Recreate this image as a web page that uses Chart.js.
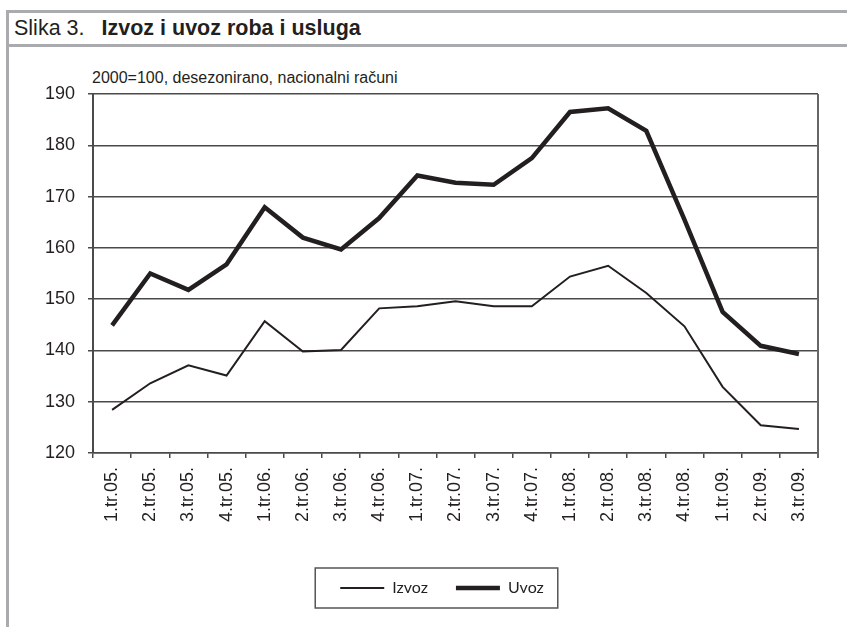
<!DOCTYPE html>
<html>
<head>
<meta charset="utf-8">
<script src="https://cdn.jsdelivr.net/npm/chart.js@4"></script>
<style>
    body { margin: 0; background: #fff; width: 847px; height: 627px; overflow: hidden; position: relative; }
    .frame-top { position: absolute; left: 6px; top: 10px; right: 0; height: 31px;
                 border-top: 3px solid #a9abae; border-bottom: 3px solid #a9abae; }
    .frame-left { position: absolute; left: 6px; top: 10px; width: 3px; height: 617px; background: #a9abae; }
    .title { position: absolute; left: 14px; top: 15px; font: 21.5px/26px "Liberation Sans", Arial, sans-serif;
             color: #231f20; white-space: nowrap; }
    .title b { margin-left: 17px; }
    .subtitle { position: absolute; left: 92px; top: 69px; font: 16px/18px "Liberation Sans", Arial, sans-serif;
                color: #231f20; white-space: nowrap; }
    #chart { position: absolute; left: 0; top: 0; }
</style>
</head>
<body>
<div class="frame-top"></div>
<div class="frame-left"></div>
<div class="title">Slika 3.<b>Izvoz i uvoz roba i usluga</b></div>
<div class="subtitle">2000=100, desezonirano, nacionalni računi</div>
<canvas id="chart" width="847" height="627"></canvas>
<script>
// quarters
var labels = ['1.tr.05.', '2.tr.05.', '3.tr.05.', '4.tr.05.',
              '1.tr.06.', '2.tr.06.', '3.tr.06.', '4.tr.06.',
              '1.tr.07.', '2.tr.07.', '3.tr.07.', '4.tr.07.',
              '1.tr.08.', '2.tr.08.', '3.tr.08.', '4.tr.08.',
              '1.tr.09.', '2.tr.09.', '3.tr.09.'];

// index values, 2000=100
var izvoz = [128.4, 133.6, 137.1, 135.1, 145.7, 139.8, 140.1, 148.2, 148.6, 149.6,
             148.6, 148.6, 154.4, 156.5, 151.2, 144.7, 132.9, 125.4, 124.7];
var uvoz = [144.9, 155.0, 151.8, 156.8, 167.9, 162.0, 159.7, 165.8, 174.1, 172.7,
            172.3, 177.5, 186.5, 187.2, 182.8, 165.5, 147.5, 140.9, 139.3];

var yTicks = [120, 130, 140, 150, 160, 170, 180, 190];

var ink = '#231f20';
var gridColor = '#4a4a4a';

// legend in the original sits a bit right of the page centre
var legendShift = 33;

// right edge of plot + box round the legend
var framePlugin = {
    id: 'frame',
    afterLayout: function (chart) {
        chart.legend.left += legendShift;
        chart.legend.right += legendShift;
    },
    afterDraw: function (chart) {
        var ctx = chart.ctx;
        var area = chart.chartArea;
        ctx.save();
        ctx.strokeStyle = '#666';
        ctx.lineWidth = 2;
        ctx.beginPath();
        ctx.moveTo(area.right, area.top);
        ctx.lineTo(area.right, area.bottom + 5);
        ctx.stroke();

        var boxes = chart.legend.legendHitBoxes;
        if (boxes && boxes.length) {
            var first = boxes[0];
            var last = boxes[boxes.length - 1];
            var cy = first.top + first.height / 2;
            ctx.strokeStyle = '#555';
            ctx.lineWidth = 1.5;
            ctx.strokeRect(first.left - 25, cy - 20, last.left + last.width + 14 - (first.left - 25), 40);
        }
        ctx.restore();
    }
};

function prepareTradeChart()
{
    var canvas = document.getElementById('chart');
    var chart = new Chart(canvas, {
        type: 'line',
        data: {
            labels: labels,
            datasets: [{
                label: 'Izvoz',
                data: izvoz,
                borderColor: ink,
                backgroundColor: ink,
                borderWidth: 2,
                pointRadius: 0,
                tension: 0,
                borderJoinStyle: 'miter'
            }, {
                label: 'Uvoz',
                data: uvoz,
                borderColor: ink,
                backgroundColor: ink,
                borderWidth: 4.5,
                pointRadius: 0,
                tension: 0,
                borderJoinStyle: 'miter'
            }]
        },
        options: {
            responsive: false,
            animation: false,
            layout: {padding: {top: 94, left: 0, right: 29, bottom: 21}},
            plugins: {
                legend: {
                    position: 'bottom',
                    labels: {
                        usePointStyle: true,
                        pointStyle: 'line',
                        pointStyleWidth: 44,
                        padding: 28,
                        color: ink,
                        font: {family: 'Lato', size: 16}
                    }
                },
                tooltip: {enabled: false}
            },
            scales: {
                x: {
                    offset: true,
                    grid: {offset: true, drawOnChartArea: false, drawTicks: true, tickLength: 5, color: gridColor, lineWidth: 1.5},
                    border: {color: gridColor, width: 1.5},
                    ticks: {
                        autoSkip: false, minRotation: 90, maxRotation: 90, padding: 9,
                        color: ink, font: {family: 'Liberation Sans', size: 18}
                    },
                    afterFit: function (scale) { scale.height = 99; }
                },
                y: {
                    min: yTicks[0],
                    max: yTicks[yTicks.length - 1],
                    afterBuildTicks: function (scale) {
                        scale.ticks = yTicks.map(function (v) { return {value: v}; });
                    },
                    grid: {color: gridColor, lineWidth: 1.5, tickLength: 5},
                    border: {color: gridColor, width: 2},
                    ticks: {padding: 13, color: ink, font: {family: 'Liberation Sans', size: 18}},
                    afterFit: function (scale) { scale.width = 93; }
                }
            }
        },
        plugins: [framePlugin]
    });
    return chart;
}

prepareTradeChart();
</script>
</body>
</html>
